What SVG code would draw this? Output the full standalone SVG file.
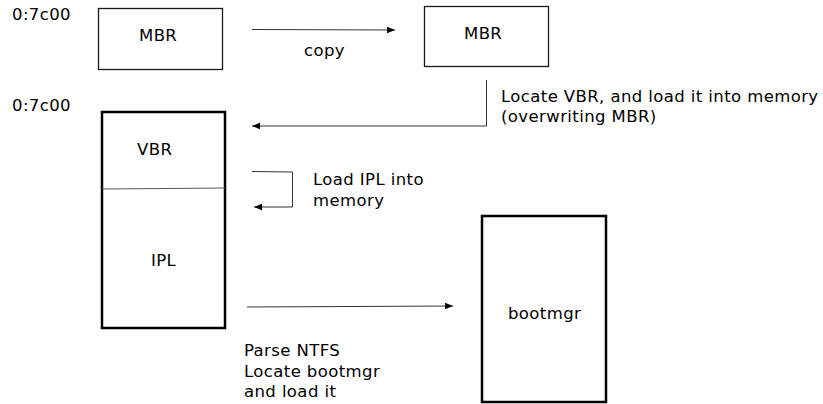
<svg xmlns="http://www.w3.org/2000/svg" width="823" height="404" viewBox="0 0 823 404">
<style>
text{font-family:"DejaVu Sans",sans-serif;font-size:16.5px;letter-spacing:0.4px;fill:#000}
.box{fill:#fff;stroke:#1a1a1a;stroke-width:1.3}
.thick{fill:#fff;stroke:#000;stroke-width:2.5}
.conn{fill:none;stroke:#333;stroke-width:1}
</style>
<defs>
<marker id="ah" viewBox="0 0 10 10" refX="10" refY="5" markerWidth="10" markerHeight="8" markerUnits="userSpaceOnUse" orient="auto">
<path d="M0,1 L10,5 L0,9 z" fill="#000"/>
</marker>
</defs>
<rect width="823" height="404" fill="#fff"/>
<text x="12" y="20">0:7c00</text>
<text x="12" y="111">0:7c00</text>
<g id="mbr1"><rect class="box" x="98.5" y="8.5" width="124" height="61"/><text x="139" y="41">MBR</text></g>
<g id="mbr2"><rect class="box" x="424.5" y="6.5" width="124" height="60"/><text x="464" y="39">MBR</text></g>
<g id="vbr"><rect class="thick" x="102" y="112" width="123" height="216"/><line x1="102" y1="189" x2="225" y2="188" stroke="#555" stroke-width="1"/><text x="137" y="155">VBR</text><text x="151" y="266">IPL</text></g>
<g id="bootmgr"><rect class="thick" x="482" y="216" width="124" height="186"/><text x="508" y="319">bootmgr</text></g>
<g id="connectors">
<path class="conn" d="M252,29.5 L395,30" marker-end="url(#ah)"/>
<path class="conn" d="M486.5,80 L486.5,126 L252,126" marker-end="url(#ah)"/>
<path class="conn" d="M252,171.5 L292.5,172 L292.5,207 L254,207" marker-end="url(#ah)"/>
<path class="conn" d="M247,307 L453,306" marker-end="url(#ah)"/>
</g>
<text x="304" y="56">copy</text>
<text x="501" y="101.5">Locate VBR, and load it into memory</text>
<text x="501" y="122">(overwriting MBR)</text>
<text x="313" y="185">Load IPL into</text>
<text x="313" y="205.5">memory</text>
<text x="244" y="356">Parse NTFS</text>
<text x="244" y="376.5">Locate bootmgr</text>
<text x="244" y="397">and load it</text>
</svg>
